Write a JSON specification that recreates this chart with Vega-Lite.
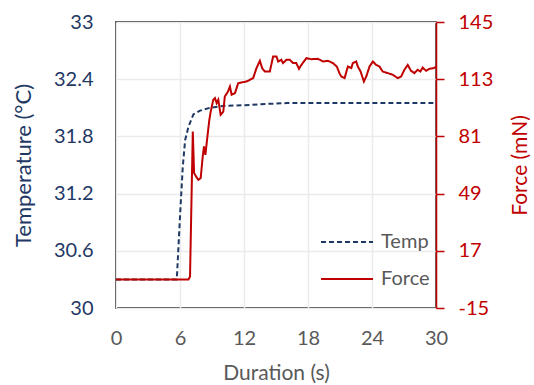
{
  "$schema": "https://vega.github.io/schema/vega-lite/v6.json",
  "width": 320,
  "height": 286,
  "autosize": "none",
  "padding": {"left": 116, "top": 22, "right": 98, "bottom": 77},
  "background": "white",
  "config": {
    "font": "Lato",
    "view": {"stroke": "black", "strokeWidth": 1.5},
    "axis": {"gridColor": "#EBEBEB", "gridWidth": 1.5, "labelFontSize": 20, "titleFontSize": 21, "titleFontWeight": "normal"}
  },
  "data": {
    "values": [
      {"t": 0, "v": 30.3, "s": "Temp"},
      {"t": 5.7, "v": 30.3, "s": "Temp"},
      {"t": 6.0, "v": 30.96, "s": "Temp"},
      {"t": 6.26, "v": 31.48, "s": "Temp"},
      {"t": 6.48, "v": 31.76, "s": "Temp"},
      {"t": 6.79, "v": 31.9, "s": "Temp"},
      {"t": 7.25, "v": 32.03, "s": "Temp"},
      {"t": 7.88, "v": 32.07, "s": "Temp"},
      {"t": 8.8, "v": 32.1, "s": "Temp"},
      {"t": 10.06, "v": 32.12, "s": "Temp"},
      {"t": 12.55, "v": 32.13, "s": "Temp"},
      {"t": 14, "v": 32.14, "s": "Temp"},
      {"t": 16, "v": 32.15, "s": "Temp"},
      {"t": 30, "v": 32.15, "s": "Temp"},
      {"t": 0, "v": 1, "s": "Force"},
      {"t": 6.79, "v": 1, "s": "Force"},
      {"t": 6.94, "v": 2.6, "s": "Force"},
      {"t": 7.2, "v": 83.7, "s": "Force"},
      {"t": 7.32, "v": 60.5, "s": "Force"},
      {"t": 7.5, "v": 58.6, "s": "Force"},
      {"t": 7.72, "v": 56.7, "s": "Force"},
      {"t": 7.94, "v": 57.7, "s": "Force"},
      {"t": 8.13, "v": 69.8, "s": "Force"},
      {"t": 8.25, "v": 75.4, "s": "Force"},
      {"t": 8.38, "v": 70.7, "s": "Force"},
      {"t": 8.5, "v": 77.2, "s": "Force"},
      {"t": 8.75, "v": 90.3, "s": "Force"},
      {"t": 8.88, "v": 94.9, "s": "Force"},
      {"t": 9.12, "v": 101.5, "s": "Force"},
      {"t": 9.28, "v": 102.4, "s": "Force"},
      {"t": 9.44, "v": 99.6, "s": "Force"},
      {"t": 9.59, "v": 101.5, "s": "Force"},
      {"t": 9.81, "v": 93.1, "s": "Force"},
      {"t": 10.06, "v": 94.9, "s": "Force"},
      {"t": 10.2, "v": 103.3, "s": "Force"},
      {"t": 10.5, "v": 106.1, "s": "Force"},
      {"t": 10.68, "v": 108.9, "s": "Force"},
      {"t": 10.84, "v": 104.3, "s": "Force"},
      {"t": 11.15, "v": 105.2, "s": "Force"},
      {"t": 11.46, "v": 110.8, "s": "Force"},
      {"t": 11.78, "v": 111.2, "s": "Force"},
      {"t": 12.24, "v": 111.7, "s": "Force"},
      {"t": 12.55, "v": 112.7, "s": "Force"},
      {"t": 12.86, "v": 113.6, "s": "Force"},
      {"t": 13.17, "v": 119.2, "s": "Force"},
      {"t": 13.49, "v": 123.3, "s": "Force"},
      {"t": 13.7, "v": 119.2, "s": "Force"},
      {"t": 13.95, "v": 117.3, "s": "Force"},
      {"t": 14.42, "v": 117.3, "s": "Force"},
      {"t": 14.73, "v": 125.7, "s": "Force"},
      {"t": 15.05, "v": 125.7, "s": "Force"},
      {"t": 15.2, "v": 122.9, "s": "Force"},
      {"t": 15.5, "v": 123.9, "s": "Force"},
      {"t": 15.66, "v": 122, "s": "Force"},
      {"t": 15.98, "v": 123.9, "s": "Force"},
      {"t": 16.29, "v": 123.9, "s": "Force"},
      {"t": 16.6, "v": 122, "s": "Force"},
      {"t": 16.9, "v": 122, "s": "Force"},
      {"t": 17.16, "v": 118.8, "s": "Force"},
      {"t": 17.38, "v": 121, "s": "Force"},
      {"t": 17.85, "v": 124.8, "s": "Force"},
      {"t": 18.3, "v": 124.2, "s": "Force"},
      {"t": 18.93, "v": 124.4, "s": "Force"},
      {"t": 19.4, "v": 122.9, "s": "Force"},
      {"t": 19.87, "v": 123.3, "s": "Force"},
      {"t": 20.34, "v": 122, "s": "Force"},
      {"t": 20.7, "v": 120.1, "s": "Force"},
      {"t": 20.96, "v": 116.2, "s": "Force"},
      {"t": 21.12, "v": 114.5, "s": "Force"},
      {"t": 21.43, "v": 113.6, "s": "Force"},
      {"t": 21.74, "v": 120.1, "s": "Force"},
      {"t": 22.06, "v": 119.2, "s": "Force"},
      {"t": 22.2, "v": 122, "s": "Force"},
      {"t": 22.52, "v": 122.9, "s": "Force"},
      {"t": 22.67, "v": 120.1, "s": "Force"},
      {"t": 22.93, "v": 117.3, "s": "Force"},
      {"t": 23.24, "v": 111.7, "s": "Force"},
      {"t": 23.46, "v": 114.5, "s": "Force"},
      {"t": 23.77, "v": 120.1, "s": "Force"},
      {"t": 24.08, "v": 122.9, "s": "Force"},
      {"t": 24.39, "v": 121, "s": "Force"},
      {"t": 24.7, "v": 120.1, "s": "Force"},
      {"t": 25.0, "v": 117.3, "s": "Force"},
      {"t": 25.48, "v": 116.4, "s": "Force"},
      {"t": 25.94, "v": 115.5, "s": "Force"},
      {"t": 26.41, "v": 113.6, "s": "Force"},
      {"t": 26.73, "v": 114.5, "s": "Force"},
      {"t": 27.04, "v": 118.3, "s": "Force"},
      {"t": 27.35, "v": 121, "s": "Force"},
      {"t": 27.66, "v": 117.7, "s": "Force"},
      {"t": 27.97, "v": 116.4, "s": "Force"},
      {"t": 28.28, "v": 118.3, "s": "Force"},
      {"t": 28.53, "v": 117.3, "s": "Force"},
      {"t": 28.75, "v": 119.5, "s": "Force"},
      {"t": 29.07, "v": 117.7, "s": "Force"},
      {"t": 29.37, "v": 118.8, "s": "Force"},
      {"t": 29.78, "v": 119.2, "s": "Force"},
      {"t": 30, "v": 120, "s": "Force"}
    ]
  },
  "encoding": {
    "x": {
      "field": "t", "type": "quantitative",
      "scale": {"domain": [0, 30], "nice": false, "zero": false},
      "axis": {"values": [0, 6, 12, 18, 24, 30], "title": "Duration (s)", "domain": false, "ticks": false, "labelPadding": 20, "labelColor": "#595959", "titleColor": "#595959", "titlePadding": 14, "labelFlush": false}
    },
    "color": {
      "field": "s", "type": "nominal",
      "scale": {"domain": ["Temp", "Force"], "range": ["#1F3864", "#C00000"]},
      "legend": {"title": null, "orient": "none", "legendX": 204, "legendY": 193, "labelFontSize": 20, "labelColor": "#595959", "symbolSize": 2704, "symbolStrokeWidth": 2, "rowPadding": -2, "labelOffset": 7, "padding": 0}
    },
    "strokeDash": {
      "field": "s", "type": "nominal",
      "scale": {"domain": ["Temp", "Force"], "range": [[5, 3], [1, 0]]},
      "legend": {"title": null, "orient": "none", "legendX": 204, "legendY": 193, "labelFontSize": 20, "labelColor": "#595959", "symbolSize": 2704, "symbolStrokeWidth": 2, "rowPadding": -2, "labelOffset": 7, "padding": 0}
    }
  },
  "layer": [
    {
      "transform": [{"filter": "datum.s === 'Temp'"}],
      "mark": {"type": "line", "strokeWidth": 2},
      "encoding": {
        "y": {
          "field": "v", "type": "quantitative",
          "scale": {"domain": [30, 33], "nice": false, "zero": false},
          "axis": {"orient": "left", "values": [30, 30.6, 31.2, 31.8, 32.4, 33], "format": "~g", "title": "Temperature (°C)", "domain": false, "ticks": false, "labelPadding": 23, "labelColor": "#1F3864", "titleColor": "#1F3864", "titlePadding": 18, "titleFontSize": 22, "labelFlush": false}
        }
      }
    },
    {
      "transform": [{"filter": "datum.s === 'Force'"}],
      "mark": {"type": "line", "strokeWidth": 2},
      "encoding": {
        "y": {
          "field": "v", "type": "quantitative",
          "scale": {"domain": [-15, 145], "nice": false, "zero": false},
          "axis": {"orient": "right", "values": [-15, 17, 49, 81, 113, 145], "labelExpr": "'' + datum.value", "title": "Force (mN)", "titleAngle": -90, "grid": false, "domain": true, "domainColor": "#C00000", "domainWidth": 1.5, "ticks": true, "tickColor": "#C00000", "tickWidth": 1.5, "tickSize": 8, "labelPadding": 14, "labelColor": "#C00000", "titleColor": "#C00000", "titlePadding": 38, "labelFlush": false}
        }
      }
    }
  ],
  "resolve": {"scale": {"y": "independent"}}
}
